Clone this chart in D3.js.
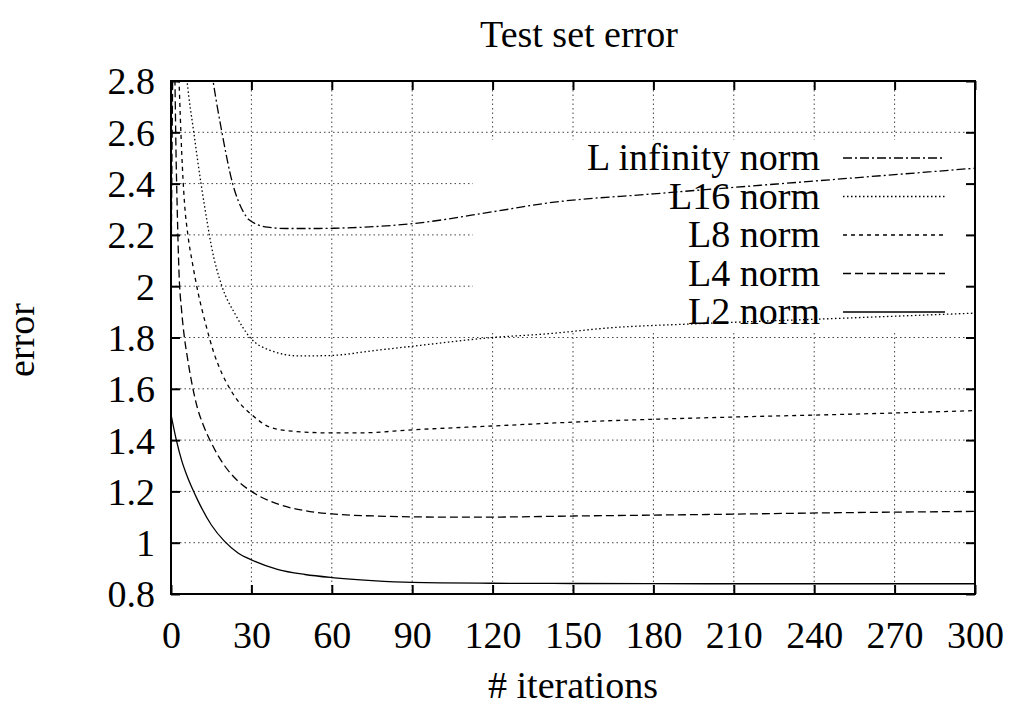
<!DOCTYPE html>
<html>
<head>
<meta charset="utf-8">
<script src="https://cdn.jsdelivr.net/npm/d3@7"></script>
<style>
  html, body { margin: 0; padding: 0; background: #fff; }
  svg { display: block; }
  svg text { font-family: "Liberation Serif", "DejaVu Serif", serif; font-size: 38px; fill: #000; }
</style>
</head>
<body>
<svg id="chart" width="1012" height="708"></svg>
<script>
// Iteration counts and error values for each norm
const l2Iter = [0, 2, 4, 6, 8, 10, 15, 20, 25, 30, 40, 50, 60, 75, 90, 120, 150, 200, 250, 300];
const l2Err  = [1.50, 1.40, 1.32, 1.26, 1.21, 1.165, 1.07, 1.005, 0.96, 0.933, 0.895, 0.876, 0.864, 0.852, 0.845, 0.842, 0.841, 0.840, 0.840, 0.840];

const l4Iter = [0, 1, 2, 3, 4, 5, 6, 8, 10, 12, 15, 17, 20, 25, 30, 40, 50, 60, 80, 100, 120, 150, 200, 250, 300];
const l4Err  = [1.97, 3.0, 2.45, 2.05, 1.90, 1.80, 1.73, 1.61, 1.52, 1.46, 1.39, 1.35, 1.30, 1.24, 1.20, 1.15, 1.125, 1.112, 1.103, 1.100, 1.100, 1.104, 1.110, 1.117, 1.122];

const l8Iter = [0, 1, 2, 3, 4, 5, 6.3, 8, 10, 13, 16, 19, 22, 26, 30, 37, 45, 60, 70, 90, 120, 150, 210, 250, 300];
const l8Err  = [2.42, 3.3, 3.1, 2.80, 2.52, 2.33, 2.20, 2.09, 1.98, 1.85, 1.74, 1.66, 1.60, 1.54, 1.50, 1.45, 1.435, 1.428, 1.428, 1.440, 1.455, 1.470, 1.490, 1.500, 1.515];

const l16Iter = [1, 3, 6, 8.5, 11.2, 13.5, 15, 19, 24, 29.5, 37, 48, 60, 75, 91, 120, 141, 163, 200, 250, 300];
const l16Err  = [3.6, 3.2, 2.80, 2.60, 2.40, 2.25, 2.16, 2.00, 1.89, 1.80, 1.75, 1.728, 1.730, 1.748, 1.767, 1.800, 1.815, 1.837, 1.855, 1.875, 1.895];

const lInfIter = [10, 13, 15.7, 19, 23, 27, 29, 36, 43, 55, 61, 91, 120, 141, 180, 240, 270, 300];
const lInfErr  = [3.3, 3.0, 2.80, 2.60, 2.40, 2.29, 2.26, 2.23, 2.225, 2.225, 2.226, 2.245, 2.290, 2.325, 2.360, 2.410, 2.435, 2.460];

const xTicks = [0, 30, 60, 90, 120, 150, 180, 210, 240, 270, 300];
const yTicks = [0.8, 1.0, 1.2, 1.4, 1.6, 1.8, 2.0, 2.2, 2.4, 2.6, 2.8];
const yTickLabels = ["0.8", "1", "1.2", "1.4", "1.6", "1.8", "2", "2.2", "2.4", "2.6", "2.8"];

const seriesNames = ["L infinity norm", "L16 norm", "L8 norm", "L4 norm", "L2 norm"];

const series = [
  { name: seriesNames[0], iter: lInfIter, err: lInfErr, dash: "9,3,2,3" },
  { name: seriesNames[1], iter: l16Iter,  err: l16Err,  dash: "1.5,2.5" },
  { name: seriesNames[2], iter: l8Iter,   err: l8Err,   dash: "4,4" },
  { name: seriesNames[3], iter: l4Iter,   err: l4Err,   dash: "8,4" },
  { name: seriesNames[4], iter: l2Iter,   err: l2Err,   dash: null }
];

const svg = d3.select("#chart");
const plotLeft = 171, plotRight = 975, plotTop = 81, plotBottom = 594;

const x = d3.scaleLinear().domain([0, 300]).range([plotLeft, plotRight]);
const y = d3.scaleLinear().domain([0.8, 2.8]).range([plotBottom, plotTop]);

// Title and axis labels
svg.append("text").attr("x", 579).attr("y", 47).attr("text-anchor", "middle").text("Test set error");
svg.append("text").attr("transform", "translate(34,340) rotate(-90)")
  .attr("text-anchor", "middle").text("error");
svg.append("text").attr("x", 573).attr("y", 698).attr("text-anchor", "middle").text("# iterations");

// Grid
const grid = svg.append("g").attr("stroke", "#444").attr("stroke-width", 1)
  .attr("stroke-dasharray", "1.5,3");
grid.selectAll("line.gx").data(xTicks.slice(1, -1)).join("line")
  .attr("x1", d => x(d)).attr("x2", d => x(d)).attr("y1", plotTop).attr("y2", plotBottom);
grid.selectAll("line.gy").data(yTicks.slice(1, -1)).join("line")
  .attr("x1", plotLeft).attr("x2", plotRight).attr("y1", d => y(d)).attr("y2", d => y(d));

// Key area blanks the grid behind it
svg.append("rect").attr("x", 473).attr("y", 140).attr("width", plotRight - 473).attr("height", 192)
  .attr("fill", "#fff");

// Curves
svg.append("clipPath").attr("id", "plotClip").append("rect")
  .attr("x", plotLeft).attr("y", plotTop).attr("width", plotRight - plotLeft).attr("height", plotBottom - plotTop);

const line = d3.line().curve(d3.curveMonotoneX).x(d => x(d[0])).y(d => y(d[1]));
const curves = svg.append("g").attr("clip-path", "url(#plotClip)");
series.forEach(s => {
  curves.append("path")
    .datum(s.iter.map((v, i) => [v, s.err[i]]))
    .attr("d", line)
    .attr("fill", "none").attr("stroke", "#000").attr("stroke-width", 1.3)
    .attr("stroke-dasharray", s.dash);
});

// Axes: inward ticks on all four sides
const tickLen = 9;
const axisBottom = d3.axisBottom(x).tickValues(xTicks).tickSize(-tickLen).tickPadding(24);
const axisTop = d3.axisTop(x).tickValues(xTicks).tickSize(-tickLen).tickFormat("");
const axisLeft = d3.axisLeft(y).tickValues(yTicks).tickSize(-tickLen).tickPadding(24)
  .tickFormat((d, i) => yTickLabels[i]);
const axisRight = d3.axisRight(y).tickValues(yTicks).tickSize(-tickLen).tickFormat("");

function styleAxis(g) {
  g.attr("font-family", null).attr("font-size", null);
  g.select(".domain").remove();
  g.selectAll(".tick line").attr("stroke", "#000").attr("stroke-width", 2);
  g.selectAll(".tick text").attr("fill", "#000");
}
svg.append("g").attr("transform", `translate(0,${plotBottom})`).call(axisBottom).call(styleAxis)
  .selectAll(".tick text").attr("dy", null).attr("y", 54);
svg.append("g").attr("transform", `translate(0,${plotTop})`).call(axisTop).call(styleAxis);
svg.append("g").attr("transform", `translate(${plotLeft},0)`).call(axisLeft).call(styleAxis)
  .selectAll(".tick text").attr("x", -16).attr("dy", "0.34em");
svg.append("g").attr("transform", `translate(${plotRight},0)`).call(axisRight).call(styleAxis);

svg.append("rect").attr("x", plotLeft).attr("y", plotTop).attr("width", plotRight - plotLeft).attr("height", plotBottom - plotTop)
  .attr("fill", "none").attr("stroke", "#000").attr("stroke-width", 2);

// Key
const key = svg.append("g");
series.forEach((s, i) => {
  const ky = 158 + i * 38.5;
  key.append("text").attr("x", 820).attr("y", ky + 12).attr("text-anchor", "end").text(s.name);
  key.append("line").attr("x1", 843).attr("x2", 945).attr("y1", ky).attr("y2", ky)
    .attr("stroke", "#000").attr("stroke-width", 1.3).attr("stroke-dasharray", s.dash);
});
</script>
</body>
</html>
